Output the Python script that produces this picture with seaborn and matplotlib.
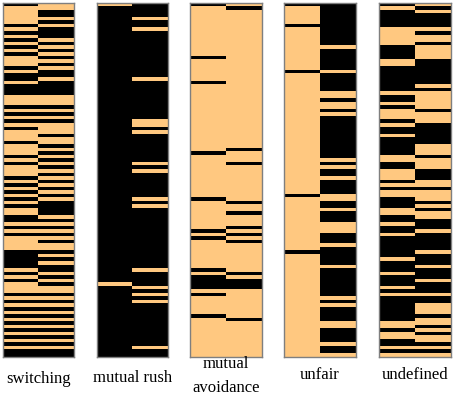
import numpy as np
import pandas as pd
import seaborn as sns
import matplotlib
matplotlib.use("Agg")
import matplotlib.pyplot as plt
from matplotlib.colors import ListedColormap

N_ROWS = 100

# 1 = black, 0 = orange, top row first (groups of 10 rows)
switching_left = ("1000001010 1010100010 1101110001 0101010001 0001010001 "
                  "0101010100 1101010000 1111101010 0010101010 1010101011")
switching_right = ("0011010111 0101010101 1011110001 0101000100 1010101010 "
                   "1010101111 0101010100 1010110101 0010101010 1010101011")

# mostly black panel: rows that are orange
rush_left_orange = [0, 79]
rush_right_orange = [4, 7, 21, 33, 34, 36, 45, 47, 55, 57, 75, 80, 82, 84, 97]

# mostly orange panel: rows that are black
avoid_left_black = [0, 15, 22, 42, 55, 64, 66, 75, 77, 78, 79, 80, 82, 88]
avoid_right_black = [1, 41, 45, 56, 59, 63, 65, 67, 76, 78, 79, 80, 89]

unfair_left_black = [0, 6, 19, 54, 70]
unfair_right = ("1111111111 1101111110 1111100100 1011111111 1111010110 "
                "1111001101 1100011101 1111011111 1110101111 0011110110")

undefined_left = ("1011111000 0011110011 1111101101 0001011011 1110011000 "
                  "1010011100 1101101111 1101110111 0101111111 0010011010")
undefined_right = ("0101111010 0100001111 1110100000 1000111111 0001000111 "
                   "0010001010 0111011111 0111011101 1101100010 0101001010")

labels = [["switching"], ["mutual rush"], ["mutual", "avoidance"], ["unfair"], ["undefined"]]
label_baselines = [[383], [382], [368, 392], [379], [379]]


def from_string(s):
    vals = np.array([int(c) for c in s.replace(" ", "")])
    assert len(vals) == N_ROWS, len(vals)
    return vals


def from_rows(rows, value):
    vals = np.full(N_ROWS, 1 - value)
    vals[rows] = value
    return vals


columns = [
    (from_string(switching_left), from_string(switching_right)),
    (from_rows(rush_left_orange, 0), from_rows(rush_right_orange, 0)),
    (from_rows(avoid_left_black, 1), from_rows(avoid_right_black, 1)),
    (from_rows(unfair_left_black, 1), from_string(unfair_right)),
    (from_string(undefined_left), from_string(undefined_right)),
]

orange = "#FFC880"
cmap = ListedColormap([orange, "black"])

W, H = 454, 395
fig = plt.figure(figsize=(W / 100, H / 100), dpi=100)

panel_left = [2.7, 96.7, 190.3, 284.3, 379.3]
panel_w = 71.5
panel_top, panel_bottom = 2.7, 356.5

for i, (left, right) in enumerate(columns):
    ax = fig.add_axes([panel_left[i] / W, 1 - panel_bottom / H,
                       panel_w / W, (panel_bottom - panel_top) / H])
    df = pd.DataFrame({"a": left, "b": right})
    sns.heatmap(df, cmap=cmap, vmin=0, vmax=1, cbar=False,
                xticklabels=False, yticklabels=False, ax=ax)
    for s in ax.spines.values():
        s.set_visible(True)
        s.set_color("#7f7f7f")
        s.set_linewidth(1)

    # labels under each panel
    cx = (panel_left[i] + panel_w / 2) / W
    for line, yb in zip(labels[i], label_baselines[i]):
        fig.text(cx, 1 - yb / H, line, ha="center", va="baseline",
                 fontsize=12, family="Liberation Serif")

fig.savefig("out.png", dpi=100)
